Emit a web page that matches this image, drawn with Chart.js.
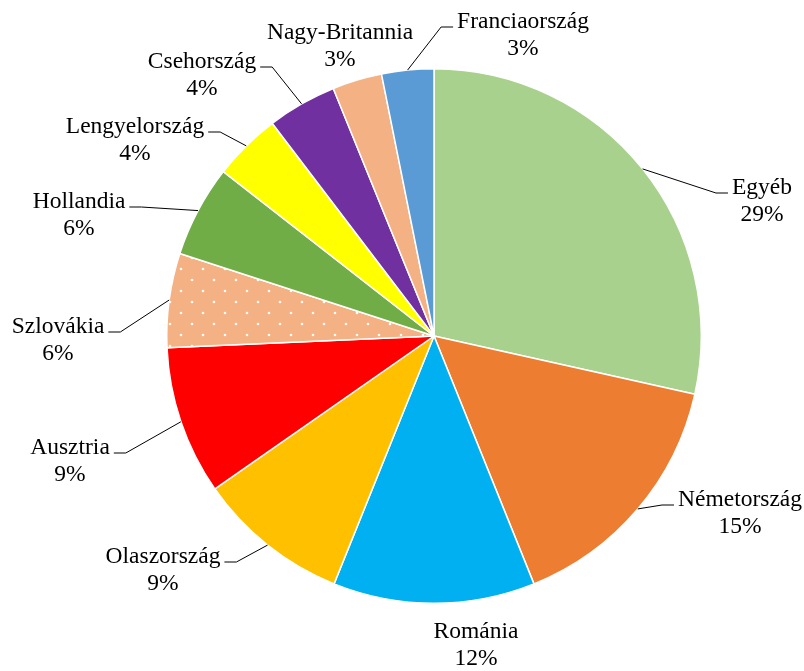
<!DOCTYPE html>
<html>
<head>
<meta charset="utf-8">
<script src="https://cdn.jsdelivr.net/npm/chart.js@4/dist/chart.umd.min.js"></script>
<style>
  html, body { margin: 0; padding: 0; background: #fff; }
  #wrap { width: 804px; height: 671px; position: relative; }
</style>
</head>
<body>
<div id="wrap"><canvas id="pie"></canvas></div>
<script>
// data (shares in %)
const countries = ['Egyéb', 'Németország', 'Románia', 'Olaszország', 'Ausztria', 'Szlovákia',
  'Hollandia', 'Lengyelország', 'Csehország', 'Nagy-Britannia', 'Franciaország'];
const shares = [28.5, 15.4, 12.2, 9.2, 9.0, 5.7, 5.55, 4.1, 4.2, 3.0, 3.15];

const sliceColors = ['#A9D18E', '#ED7D31', '#00B0F0', '#FFC000', '#FF0000', 'dots',
  '#70AD47', '#FFFF00', '#7030A0', '#F4B183', '#5B9BD5'];

// label placement: offset of the name line from the pie centre, which side the leader comes from
const labelLayout = [
  { dx: 328, dy: -148, side: 'right' },
  { dx: 306, dy: 164, side: 'right' },
  { dx: 42, dy: 296, side: 'none' },
  { dx: -271, dy: 221, side: 'left' },
  { dx: -364, dy: 112, side: 'left' },
  { dx: -376, dy: -9, side: 'left' },
  { dx: -355, dy: -134, side: 'left' },
  { dx: -299, dy: -209, side: 'left' },
  { dx: -232, dy: -274, side: 'left' },
  { dx: -94, dy: -303, side: 'none' },
  { dx: 89, dy: -314, side: 'right' }
];

function dotPattern() {
  const c = document.createElement('canvas');
  c.width = 22; c.height = 22;
  const g = c.getContext('2d');
  g.fillStyle = '#F4B183';
  g.fillRect(0, 0, 22, 22);
  g.fillStyle = 'rgba(255,255,255,0.95)';
  [[5, 5], [16, 16]].forEach(p => {
    g.beginPath(); g.arc(p[0], p[1], 1.3, 0, Math.PI * 2); g.fill();
  });
  return g.createPattern(c, 'repeat');
}

const total = shares.reduce((a, b) => a + b, 0);
const labelFont = '23.5px "Liberation Serif", "Times New Roman", serif';

const outsideLabels = {
  id: 'outsideLabels',
  afterDatasetsDraw(chart) {
    const ctx = chart.ctx;
    const meta = chart.getDatasetMeta(0);
    ctx.save();
    ctx.font = labelFont;
    ctx.fillStyle = '#000';
    ctx.strokeStyle = '#000';
    ctx.lineWidth = 1;
    ctx.textAlign = 'center';
    ctx.textBaseline = 'middle';
    meta.data.forEach((arc, i) => {
      const lay = labelLayout[i];
      const cx = arc.x, cy = arc.y;
      const lx = cx + lay.dx, ly = cy + lay.dy;
      const name = countries[i];
      const pct = Math.round(shares[i] * 100 / total) + '%';
      ctx.fillText(name, lx, ly);
      ctx.fillText(pct, lx, ly + 27);
      if (lay.side !== 'none') {
        const mid = (arc.startAngle + arc.endAngle) / 2;
        const ax = cx + Math.cos(mid) * arc.outerRadius;
        const ay = cy + Math.sin(mid) * arc.outerRadius;
        const w = ctx.measureText(name).width;
        const sign = lay.side === 'left' ? 1 : -1;
        const x0 = lx + sign * (w / 2 + 4);
        const y0 = ly + 5;
        ctx.beginPath();
        ctx.moveTo(x0, y0);
        ctx.lineTo(x0 + sign * 12, y0);
        ctx.lineTo(ax, ay);
        ctx.stroke();
      }
    });
    ctx.restore();
  }
};

const ctx = document.getElementById('pie').getContext('2d');
new Chart(ctx, {
  type: 'pie',
  data: {
    labels: countries,
    datasets: [{
      data: shares,
      backgroundColor: sliceColors.map(c => c === 'dots' ? dotPattern() : c),
      borderColor: '#ffffff',
      borderWidth: 1.5
    }]
  },
  options: {
    responsive: true,
    maintainAspectRatio: false,
    animation: false,
    layout: { padding: { left: 166, right: 102, top: 68, bottom: 67 } },
    plugins: {
      legend: { display: false },
      tooltip: { enabled: false }
    }
  },
  plugins: [outsideLabels]
});
</script>
</body>
</html>
